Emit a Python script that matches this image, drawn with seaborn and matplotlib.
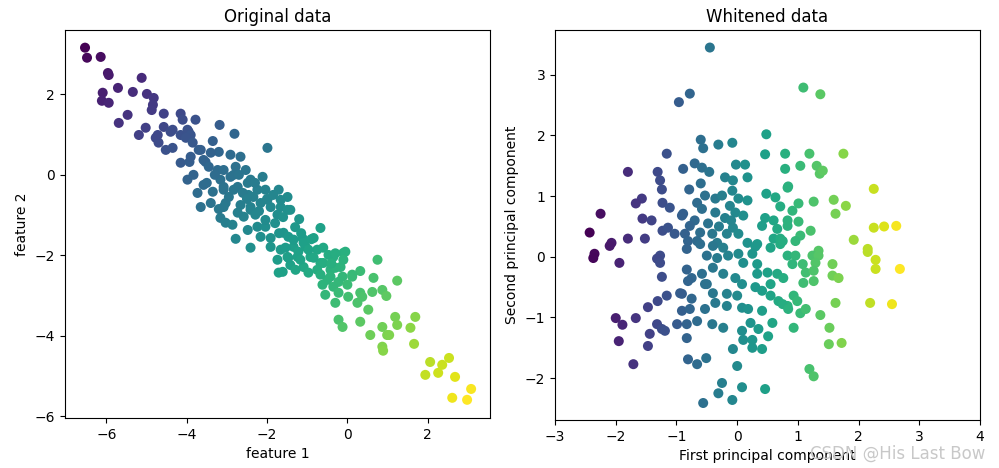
import numpy as np
import pandas as pd
import matplotlib
matplotlib.use("Agg")
import matplotlib.pyplot as plt
import seaborn as sns

# Original data
orig_x = [
    -6.53, -6.48, -6.14, -5.96, -5.94, -5.71, -5.34, -5.12, -4.99, -4.82, -6.09, -6.11, -5.94,
    -4.84, -4.87, -5.47, -5.69, -4.57, -4.15, -4.10, -3.78, -5.02, -5.19, -4.77, -4.57, -4.35,
    -4.15, -3.95, -4.70, -4.52, -4.35, -4.15, -3.93, -3.70, -3.53, -3.18, -2.81, -4.72, -4.40,
    -3.98, -3.90, -4.02, -3.85, -3.35, -3.65, -3.20, -1.99, -3.58, -2.91, -2.66, -3.45, -3.23,
    -2.78, -2.53, -3.98, -3.83, -3.58, -3.16, -2.91, -2.41, -2.11, -3.73, -3.35, -3.08, -2.73,
    -2.46, -2.24, -2.04, -1.71, -1.49, -3.65, -3.40, -3.03, -2.66, -2.41, -2.16, -1.91, -1.66,
    -1.49, -3.16, -2.58, -1.74, -3.08, -2.83, -2.48, -3.08, -2.83, -2.34, -1.99, -1.66, -3.08,
    -2.73, -2.41, -1.42, -3.03, -2.48, -2.24, -2.04, -2.16, -1.91, -1.59, -1.47, -0.67, -1.12,
    -2.78, -2.41, -1.91, -1.66, -1.34, -1.04, -0.75, -0.60, -1.74, -1.49, -1.24, -0.92, -0.67,
    -0.35, -0.05, -1.71, -1.42, -1.09, -0.75, -0.42, -0.17, 0.12, -0.50, -0.22, -1.34, -0.84,
    -1.09, -1.54, -1.22, -0.97, -0.47, -0.10, -1.47, -1.17, -0.84, -0.60, -0.30, -0.10, 0.32,
    0.75, -1.61, -1.29, -0.97, -0.67, -0.42, -0.12, 0.12, 0.65, 1.24, -0.62, -0.35, 0.00,
    0.87, -0.55, -0.22, 0.02, 0.32, 0.62, -0.30, 0.25, 0.52, -0.22, -0.12, 0.32, 0.87, 1.19,
    1.24, 1.69, 0.99, 0.57, 0.87, 1.57, 1.66, 0.97, 0.37, 1.04, 0.89, 2.06, 2.53, 2.36, 2.26,
    1.94, 2.68, 3.08, 2.61, 2.98, -2.29, -2.04, -2.86,
    # points partly hidden in the dense middle of the band
    -2.95, -2.60, -2.30, -2.00, -1.80, -1.60, -1.30, -1.15, -3.30, -3.50, -2.70, -2.20,
    -1.85, -1.20, -0.90, -0.40, -0.30, -3.90, -3.40, -2.50, -1.70, -3.20,
]
orig_y = [
    3.16, 2.91, 2.93, 2.53, 2.48, 2.16, 2.06, 2.41, 2.01, 1.91, 2.04, 1.84, 1.79,
    1.74, 1.61, 1.49, 1.29, 1.52, 1.52, 1.37, 1.37, 1.17, 0.99, 0.92, 1.19, 1.12,
    0.99, 1.07, 0.80, 0.62, 0.67, 0.30, 0.32, 0.62, 0.32, 1.24, 1.02, 0.99, 1.07,
    1.12, 0.99, 0.92, 0.80, 0.84, 0.62, 0.57, 0.67, 0.37, 0.50, 0.45, 0.20, 0.12,
    0.20, 0.12, -0.12, 0.00, -0.25, -0.12, -0.05, -0.12, -0.05, -0.45, -0.42, -0.30, -0.30,
    -0.50, -0.37, -0.37, -0.37, -0.55, -0.80, -0.70, -0.70, -0.75, -0.80, -0.70, -0.80, -0.80,
    -0.87, -1.07, -1.04, -0.99, 0.12, 0.00, -0.20, -0.37, -0.37, -0.55, -0.62, -0.62, -0.80,
    -0.94, -0.87, -0.87, -1.19, -1.37, -1.29, -1.29, -1.54, -1.57, -1.44, -1.54, -1.32, -1.57,
    -1.59, -1.81, -1.79, -1.86, -1.79, -1.79, -1.86, -1.81, -2.11, -2.04, -2.04, -2.04, -2.19,
    -2.04, -1.91, -2.43, -2.24, -2.29, -2.36, -2.36, -2.29, -2.53, -2.61, -2.66, -1.61, -1.57,
    -1.69, -1.81, -1.91, -1.86, -1.99, -1.94, -2.06, -2.11, -2.06, -2.19, -2.31, -2.11, -2.39,
    -2.11, -2.41, -2.36, -2.43, -2.48, -2.53, -2.53, -2.48, -2.56, -2.63, -2.73, -2.78, -2.73,
    -2.86, -2.98, -2.93, -3.03, -2.93, -2.91, -3.18, -3.18, -3.35, -3.60, -3.78, -3.65, -3.78, -3.53,
    -3.73, -3.53, -3.98, -3.98, -4.27, -3.80, -4.20, -3.01, -3.03, -3.98, -4.37, -4.65, -4.55, -4.72, -4.92,
    -4.97, -5.02, -5.32, -5.54, -5.59, -0.99, -1.12, -1.24,
    -0.55, -0.45, -0.20, -0.60, -1.20, -1.05, -1.30, -1.45, 0.00, -0.20, 0.00, -0.90,
    -0.50, -1.10, -1.60, -2.20, -1.95, 0.45, 0.55, -0.60, -1.45, -0.85,
]

# Whitened data
white_x = [
    -0.45, -0.78, -0.96, -0.60, -0.56, -0.31, -0.08, 0.48, 0.46, 0.79, -0.89, -0.70, -0.58,
    -0.46, -0.02, 0.13, 0.17, -0.20, -0.07, 0.79, 0.83, -0.60, -0.79, -0.08, 0.48, 0.63,
    -0.53, -0.36, -0.25, 0.02, 0.17, 0.71, -0.66, -0.58, -0.36, -0.12, -0.20, -0.03, 0.10,
    -0.89, 0.46, 0.60, 0.83, 0.41, 0.66, -0.70, -0.78, -0.48, -0.07, 0.02, -0.86, -0.61,
    -0.41, -0.17, 0.60, 0.71, 0.33, -0.81, -0.66, -0.33, 0.17, 0.83, -0.83, -0.61, -0.40,
    -0.23, 0.02, 0.30, 0.55, 0.71, 0.25, -0.50, -0.33, -0.15, -0.83, -0.75, -0.58, -0.40,
    -0.23, -0.03, 0.08, 0.33, 0.33, 0.50, 0.66, 0.76, -0.91, -0.75, -0.53, -0.40, -0.17,
    0.00, 0.41, 0.55, 0.68, 0.83, -0.91, -0.78, -0.53, -0.36, -0.17, 0.08, 0.18, 0.41,
    -0.83, -0.66, -0.41, -0.23, 0.22, 0.35, 0.58, 0.08, -0.83, 0.10, 0.25, 0.51, -0.07,
    0.25, 0.41, -0.81, -0.66, -0.51, 0.00, -0.25, -0.31, 0.08, 0.46, -0.56, -0.08,
    -1.16, -1.80, -1.31, -1.27, -1.24, -1.57, -1.67, -1.23, -1.11, -2.25, -1.56, -1.41, -0.91,
    -2.43, -2.07, -2.10, -2.35, -2.37, -1.80, -1.52, -1.23, -1.14, -1.03, -1.27, -1.32, -1.27,
    -1.94, -1.24, -0.81, -0.94, -1.16, -1.31, -1.47, -2.00, -1.89, -1.67, -1.32, -1.24, -1.19,
    -1.44, -0.99, -1.95, -1.47, -1.71,
    1.09, 1.37, 1.19, 1.75, 1.04, 1.31, 1.36, 1.41, 0.84, 2.25, 0.91, 1.01, 1.26, 1.59,
    1.79, 1.62, 1.01, 1.04, 1.21, 2.25, 2.42, 2.62, 1.92, 0.75, 1.34, 2.15, 0.96, 0.83,
    0.96, 0.91, 1.08, 1.24, 1.34, 1.29, 1.57, 2.15, 2.28, 2.28, 2.68, 1.13, 1.26, 1.09,
    1.26, 1.57, 1.67, 0.93, 0.99, 0.75, 0.84, 1.04, 1.13, 1.62, 2.19, 2.55, 1.37, 0.93,
    1.52, 1.51, 1.72, 1.19, 1.26,
    0.10, -0.10, 0.30, -0.50, 0.55, -0.30,
]
white_y = [
    3.45, 2.69, 2.55, 1.93, 1.79, 1.85, 1.88, 2.02, 1.69, 1.70, 1.45, 1.54, 1.47,
    1.40, 1.52, 1.52, 1.31, 1.31, 1.26, 1.45, 1.14, 1.21, 1.11, 1.09, 1.04, 0.98,
    1.01, 0.96, 1.01, 0.96, 0.93, 0.83, 0.89, 0.79, 0.73, 0.84, 0.64, 0.73, 0.68,
    0.71, 0.64, 0.60, 0.60, 0.51, 0.46, 0.60, 0.51, 0.55, 0.48, 0.38, 0.38, 0.40,
    0.38, 0.38, 0.30, 0.30, 0.21, 0.26, 0.26, 0.23, 0.23, 0.51, 0.13, 0.21, 0.18,
    0.15, 0.05, 0.17, 0.15, 0.21, 0.05, 0.02, -0.02, 0.02, -0.21, -0.35, -0.28, -0.18,
    -0.28, -0.35, -0.45, -0.12, -0.28, -0.26, -0.28, -0.35, -0.61, -0.69, -0.45, -0.60, -0.61,
    -0.64, -0.56, -0.64, -0.73, -0.81, -0.89, -0.86, -0.86, -0.76, -0.81, -0.84, -0.86, -0.89,
    -1.11, -1.06, -1.11, -1.17, -1.09, -1.19, -1.09, -1.22, -1.34, -1.37, -1.37, -1.31, -1.52,
    -1.50, -1.52, -1.69, -1.77, -1.67, -1.80, -2.08, -2.25, -2.15, -2.18, -2.41, -2.36,
    1.70, 1.40, 1.40, 1.26, 1.11, 0.96, 0.88, 0.89, 0.81, 0.71, 0.63, 0.60, 0.68,
    0.40, 0.23, 0.18, 0.05, -0.02, 0.30, 0.30, 0.43, 0.48, 0.38, 0.02, -0.03, -0.10,
    -0.10, -0.33, -0.40, -0.60, -0.64, -0.73, -0.83, -1.01, -1.12, -1.01, -1.11, -1.19, -1.22,
    -1.27, -1.11, -1.39, -1.47, -1.77,
    2.79, 2.68, 1.70, 1.70, 1.50, 1.50, 1.37, 1.42, 1.16, 1.12, 0.76, 0.88, 0.91, 0.94,
    0.84, 0.71, 0.58, 0.35, 0.43, 0.48, 0.50, 0.51, 0.28, 0.26, 0.10, 0.13, 0.26, 0.02,
    0.02, -0.12, -0.12, 0.02, 0.02, -0.10, -0.12, 0.08, -0.05, -0.20, -0.20, -0.26, -0.23, -0.43,
    -0.40, -0.31, -0.35, -0.64, -0.73, -0.78, -0.86, -0.93, -0.86, -0.76, -0.76, -0.78, -0.96, -1.17,
    -1.17, -1.44, -1.42, -1.85, -1.97,
    -0.10, 0.60, -0.50, -0.45, -0.45, 0.50,
]

df_orig = pd.DataFrame({"x": orig_x, "y": orig_y})
df_white = pd.DataFrame({"x": white_x, "y": white_y})
# colour = position along the first principal axis
df_orig["pc1"] = 0.745 * df_orig["x"] - 0.667 * df_orig["y"]
df_white["pc1"] = df_white["x"]

fig = plt.figure(figsize=(9.99, 4.68), dpi=100)
ax1 = fig.add_axes([0.065, 0.107, 0.4255, 0.829])
ax2 = fig.add_axes([0.5556, 0.1026, 0.4254, 0.8334])

sns.scatterplot(data=df_orig, x="x", y="y", hue="pc1", palette="viridis",
                s=52, linewidth=0, legend=False, ax=ax1)
ax1.set_title("Original data")
ax1.set_xlabel("feature 1")
ax1.set_ylabel("feature 2")
ax1.set_xlim(-7.03, 3.55)
ax1.set_ylim(-6.04, 3.6)
ax1.set_xticks([-6, -4, -2, 0, 2])
ax1.set_yticks([-6, -4, -2, 0, 2])

sns.scatterplot(data=df_white, x="x", y="y", hue="pc1", palette="viridis",
                s=52, linewidth=0, legend=False, ax=ax2)
ax2.set_title("Whitened data")
ax2.set_xlabel("First principal component")
ax2.set_ylabel("Second principal component")
ax2.set_xlim(-3, 4)
ax2.set_ylim(-2.69, 3.74)
ax2.set_xticks([-3, -2, -1, 0, 1, 2, 3, 4])
ax2.set_yticks([-2, -1, 0, 1, 2, 3])

# watermark in the bottom right corner, as in the source image
fig.text(0.986, 0.012, "CSDN @His Last Bow", ha="right", va="bottom",
         fontsize=12, color="#c8c8c8")

fig.savefig("out.png", dpi=100)
